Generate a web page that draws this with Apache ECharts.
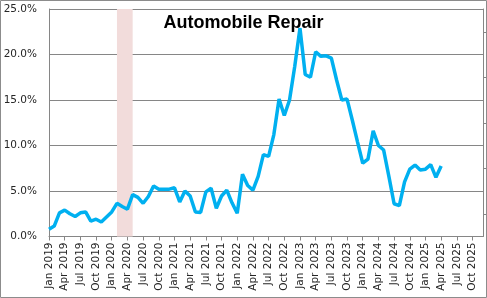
<!DOCTYPE html>
<html>
<head>
<meta charset="utf-8">
<script src="https://cdn.jsdelivr.net/npm/echarts@6/dist/echarts.min.js"></script>
<style>
  html, body { margin: 0; padding: 0; background: #fff; }
  #chart { width: 487px; height: 298px; }
</style>
</head>
<body>
<div id="chart"></div>
<script>
// axis labels
const monthNames = ["Jan", "Feb", "Mar", "Apr", "May", "Jun", "Jul", "Aug", "Sep", "Oct", "Nov", "Dec"];
const years = [2019, 2020, 2021, 2022, 2023, 2024, 2025];
const yTicks = [0, 5, 10, 15, 20, 25];

// recession band
const recessionStart = "Feb 2020";
const recessionEnd = "May 2020";

// year-over-year change, %  (Jan 2019 .. Apr 2025)
const repair2019 = [0.8, 1.15, 2.6, 2.9, 2.5, 2.2, 2.6, 2.7, 1.7, 1.9, 1.6, 2.15];
const repair2020 = [2.7, 3.65, 3.3, 3.0, 4.6, 4.3, 3.65, 4.4, 5.55, 5.2, 5.2, 5.2];
const repair2021 = [5.35, 3.8, 5.0, 4.45, 2.7, 2.65, 4.9, 5.3, 3.1, 4.45, 5.1, 3.7];
const repair2022 = [2.55, 6.85, 5.6, 5.1, 6.6, 9.0, 8.8, 11.2, 15.1, 13.3, 15.0, 18.7];
const repair2023 = [22.9, 17.8, 17.5, 20.3, 19.8, 19.85, 19.6, 17.2, 15.0, 15.1, 12.8, 10.4];
const repair2024 = [8.05, 8.5, 11.6, 10.0, 9.5, 6.6, 3.6, 3.4, 6.0, 7.4, 7.85, 7.3];
const repair2025 = [7.4, 7.9, 6.5, 7.75];

const months = [];
years.forEach((y) => monthNames.forEach((m) => months.push(m + " " + y)));

const repair = [].concat(repair2019, repair2020, repair2021, repair2022, repair2023, repair2024, repair2025);

const chart = echarts.init(document.getElementById("chart"));

const labelFont = { fontFamily: "DejaVu Sans", fontSize: 10.5, color: "#262626" };

const option = {
  animation: false,
  title: {
    text: "Automobile Repair",
    left: "center",
    top: 9,
    textStyle: { fontFamily: "Liberation Sans", fontWeight: "bold", fontSize: 18, color: "#000" },
  },
  graphic: [
    {
      type: "rect",
      shape: { x: 0.5, y: 0.5, width: 486, height: 297 },
      style: { fill: "none", stroke: "#8c8c8c", lineWidth: 1 },
      silent: true,
    },
  ],
  grid: { left: 49, right: 4, top: 9, bottom: 61.5, containLabel: false },
  xAxis: {
    type: "category",
    data: months,
    boundaryGap: false,
    axisLine: { lineStyle: { color: "#868686" } },
    axisTick: { interval: 2, length: 4, lineStyle: { color: "#868686" } },
    axisLabel: { interval: 2, rotate: 90, margin: 6, ...labelFont },
    splitLine: { show: false },
  },
  yAxis: [
    {
      type: "value",
      min: yTicks[0],
      max: yTicks[yTicks.length - 1],
      interval: 5,
      axisLine: { show: true, lineStyle: { color: "#868686" } },
      axisTick: { show: false },
      axisLabel: { margin: 12, formatter: (v) => v.toFixed(1) + "%", ...labelFont },
      splitLine: { lineStyle: { color: "#868686", width: 1 } },
    },
    {
      type: "value",
      position: "right",
      min: 0,
      max: 1,
      axisLine: { show: true, lineStyle: { color: "#868686" } },
      axisTick: { show: true, length: 3, customValues: [0.1, 0.3, 0.5, 0.7, 0.9], lineStyle: { color: "#868686" } },
      axisLabel: { show: false },
      splitLine: { show: false },
    },
  ],
  series: [
    {
      name: "Automobile Repair",
      type: "line",
      data: repair,
      showSymbol: false,
      smooth: false,
      lineStyle: { color: "#00b0f0", width: 3.5 },
      itemStyle: { color: "#00b0f0" },
      markArea: {
        silent: true,
        itemStyle: { color: "#f2dcdb" },
        data: [[{ xAxis: recessionStart }, { xAxis: recessionEnd }]],
      },
      z: 3,
    },
  ],
};

chart.setOption(option);
</script>
</body>
</html>
